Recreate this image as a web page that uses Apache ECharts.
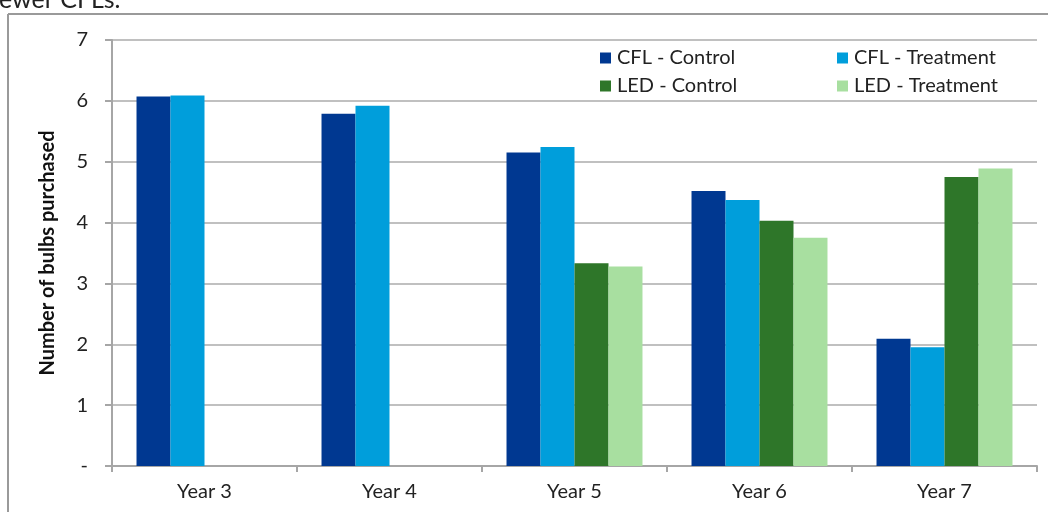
<!DOCTYPE html>
<html>
<head>
<meta charset="utf-8">
<script src="https://cdn.jsdelivr.net/npm/echarts@6/dist/echarts.min.js"></script>
<style>
  html, body { margin: 0; padding: 0; background: #fff; }
  #chart { width: 1048px; height: 515px; }
</style>
</head>
<body>
<div id="chart"></div>
<script>
// Bulb purchases by program year
const years = ['Year 3', 'Year 4', 'Year 5', 'Year 6', 'Year 7'];
const cflControl   = [6.07, 5.79, 5.15, 4.52, 2.09];
const cflTreatment = [6.09, 5.92, 5.24, 4.37, 1.95];
const ledControl   = [null, null, 3.33, 4.03, 4.75];
const ledTreatment = [null, null, 3.28, 3.75, 4.89];
const seriesNames = ['CFL - Control', 'CFL - Treatment', 'LED - Control', 'LED - Treatment'];
const seriesColors = ['#003891', '#009EDB', '#2E7629', '#A8DFA0'];
const yTicks = ['-', '1', '2', '3', '4', '5', '6', '7'];

const FONT = 'Lato, "Open Sans", sans-serif';
const chart = echarts.init(document.getElementById('chart'), null, { renderer: 'canvas' });

const allValues = [cflControl, cflTreatment, ledControl, ledTreatment];

// two-column legend: one legend block per entry
const legendSpots = [[600, 48], [837, 48], [600, 76], [837, 76]];
const legends = seriesNames.map((name, i) => ({
  data: [name],
  left: legendSpots[i][0], top: legendSpots[i][1],
  padding: 0,
  itemWidth: 11, itemHeight: 11,
  itemGap: 0,
  icon: 'rect',
  textStyle: { fontFamily: FONT, fontSize: 20, color: '#222', padding: [0, 0, 0, 1] },
  itemStyle: { borderWidth: 0 }
}));

chart.setOption({
  backgroundColor: '#ffffff',
  animation: false,
  graphic: [
    // frame around the figure
    { type: 'line', shape: { x1: 8, y1: 14, x2: 1048, y2: 14 }, style: { stroke: '#9a9a9a', lineWidth: 2 } },
    { type: 'line', shape: { x1: 8, y1: 14, x2: 8, y2: 512 }, style: { stroke: '#9a9a9a', lineWidth: 2 } },
    // tail of the preceding sentence
    { type: 'text', left: -1, top: -13, style: { text: 'ewer CFLs.', font: '25px ' + FONT, fill: '#222' } }
  ],
  legend: legends,
  grid: { left: 112, right: 11, top: 40, bottom: 49, containLabel: false },
  xAxis: {
    type: 'category',
    data: years,
    boundaryGap: true,
    axisLine: { lineStyle: { color: '#a6a6a6', width: 2 } },
    axisTick: { show: true, alignWithLabel: false, length: 6, lineStyle: { color: '#a6a6a6', width: 2 } },
    axisLabel: { fontFamily: FONT, fontSize: 20, color: '#222', margin: 16 }
  },
  yAxis: {
    type: 'value',
    min: 0, max: 7, interval: 1,
    name: 'Number of bulbs purchased',
    nameLocation: 'middle',
    nameGap: 54,
    nameTextStyle: { fontFamily: FONT, fontSize: 20, fontWeight: 'bold', color: '#111' },
    axisLine: { show: true, lineStyle: { color: '#a6a6a6', width: 2 } },
    axisTick: { show: true, length: 7, lineStyle: { color: '#a6a6a6', width: 2 } },
    axisLabel: { fontFamily: FONT, fontSize: 20, color: '#222', margin: 24,
                 formatter: v => yTicks[Math.round(v)] },
    splitLine: { lineStyle: { color: '#c0c0c0', width: 2 } }
  },
  series: seriesNames.map((name, i) => ({
    name,
    type: 'bar',
    data: allValues[i],
    barGap: '0%',
    barCategoryGap: '26.5%',
    itemStyle: { color: seriesColors[i] }
  }))
});
</script>
</body>
</html>
